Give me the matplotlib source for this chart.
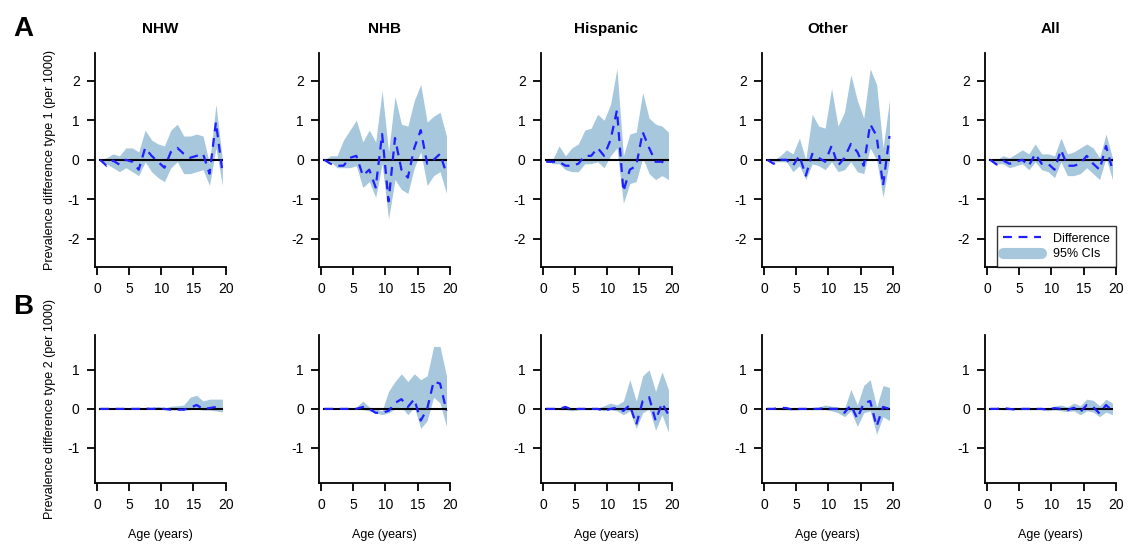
import numpy as np
import matplotlib.pyplot as plt
from matplotlib.lines import Line2D

plt.rcParams["font.family"] = ["Liberation Sans", "DejaVu Sans"]
plt.rcParams["axes.unicode_minus"] = False

ages = np.arange(0.5, 20, 1.0)
groups = ["NHW", "NHB", "Hispanic", "Other", "All"]

# type 1 (row A): difference, lower CI, upper CI
diff_1 = {
    "NHW": [0, -0.15, -0.02, -0.12, 0.0, -0.05, -0.25, 0.3, 0.1, -0.05, -0.2, 0.2, 0.3, 0.15, 0.05, 0.1, 0.15, -0.35, 0.95, -0.3],
    "NHB": [0, -0.1, -0.15, -0.15, 0.05, 0.1, -0.4, -0.25, -0.7, 0.65, -1.05, 0.55, -0.25, -0.45, 0.3, 0.75, -0.1, 0.0, 0.15, -0.35],
    "Hispanic": [-0.05, -0.05, -0.05, -0.15, -0.15, -0.1, 0.1, 0.1, 0.3, 0.1, 0.5, 1.25, -0.8, -0.25, -0.15, 0.7, 0.3, -0.05, -0.05, -0.15],
    "Other": [0, -0.1, 0.0, 0.0, -0.15, 0.1, -0.4, 0.15, 0.05, -0.05, 0.35, -0.15, 0.05, 0.4, 0.2, -0.15, 0.9, 0.6, -0.65, 0.6],
    "All": [0, -0.12, -0.02, -0.1, -0.05, 0.0, -0.15, 0.15, -0.1, -0.1, -0.25, 0.25, -0.15, -0.15, -0.1, 0.1, -0.1, -0.25, 0.35, -0.25],
}
upper_1 = {
    "NHW": [0, 0.05, 0.15, 0.1, 0.3, 0.3, 0.2, 0.75, 0.5, 0.4, 0.35, 0.75, 0.9, 0.6, 0.6, 0.65, 0.6, -0.1, 1.4, 0.0],
    "NHB": [0, 0.1, 0.1, 0.5, 0.75, 1.0, 0.45, 0.75, 0.45, 1.75, 0.2, 1.6, 0.9, 0.85, 1.5, 1.9, 0.95, 1.1, 1.2, 0.6],
    "Hispanic": [0, 0.0, 0.35, 0.1, 0.3, 0.4, 0.75, 0.8, 1.15, 1.0, 1.4, 2.3, 0.1, 0.65, 0.7, 1.7, 1.05, 0.9, 0.85, 0.7],
    "Other": [0, 0.0, 0.1, 0.25, 0.15, 0.55, 0.0, 1.15, 0.85, 0.8, 1.8, 0.85, 1.2, 2.15, 1.5, 1.05, 2.3, 1.9, 0.3, 1.5],
    "All": [0, 0.0, 0.1, 0.05, 0.15, 0.25, 0.15, 0.4, 0.15, 0.15, 0.1, 0.55, 0.15, 0.2, 0.3, 0.4, 0.3, 0.05, 0.65, 0.05],
}
lower_1 = {
    "NHW": [0, -0.1, -0.2, -0.3, -0.2, -0.3, -0.4, -0.05, -0.3, -0.45, -0.55, -0.2, -0.05, -0.35, -0.35, -0.3, -0.25, -0.65, 0.3, -0.65],
    "NHB": [0, -0.05, -0.2, -0.2, -0.2, -0.15, -0.7, -0.55, -0.95, -0.1, -1.5, -0.5, -0.75, -0.85, -0.2, 0.2, -0.65, -0.4, -0.3, -0.85],
    "Hispanic": [0, -0.1, -0.1, -0.25, -0.3, -0.3, -0.1, -0.1, -0.05, -0.2, 0.1, 0.3, -1.1, -0.6, -0.55, 0.05, -0.35, -0.5, -0.4, -0.5],
    "Other": [0, -0.05, -0.05, -0.05, -0.3, -0.15, -0.5, -0.1, -0.15, -0.25, -0.05, -0.3, -0.25, -0.05, -0.3, -0.35, 0.3, 0.0, -0.95, 0.0],
    "All": [0, -0.1, -0.1, -0.2, -0.15, -0.1, -0.25, -0.05, -0.25, -0.3, -0.45, -0.05, -0.4, -0.4, -0.35, -0.2, -0.35, -0.5, 0.05, -0.5],
}

# type 2 (row B)
diff_2 = {
    "NHW": [0, 0, 0, 0, 0, 0, 0, 0.01, 0, 0.01, 0, -0.02, -0.02, -0.02, 0.03, 0.1, 0.0, 0.02, 0.05, 0.03],
    "NHB": [0, 0, 0, 0, 0, 0, 0.05, 0.0, -0.1, -0.1, -0.05, 0.15, 0.25, 0.05, 0.25, -0.3, 0.0, 0.7, 0.65, -0.05],
    "Hispanic": [0, 0, 0, 0.05, -0.02, 0, 0, 0, 0, -0.05, 0.0, 0.03, -0.05, 0.1, -0.4, 0.2, 0.3, -0.3, 0.15, -0.15],
    "Other": [0, 0, 0.03, 0.02, -0.02, 0, 0, 0, 0, 0.02, 0, 0, -0.1, 0.1, -0.25, 0.15, 0.2, -0.45, 0.05, 0],
    "All": [0, 0, 0.02, 0, -0.02, 0, 0, 0, 0, -0.02, 0.02, 0, -0.03, 0.03, -0.08, 0.1, 0.05, -0.12, 0.1, -0.05],
}
upper_2 = {
    "NHW": [0, 0, 0, 0, 0, 0, 0.01, 0.02, 0.02, 0.07, 0.02, 0.07, 0.08, 0.1, 0.3, 0.35, 0.2, 0.25, 0.25, 0.25],
    "NHB": [0, 0, 0, 0, 0, 0.05, 0.2, 0.05, 0.0, -0.05, 0.45, 0.7, 0.9, 0.7, 0.9, 0.75, 0.85, 1.6, 1.6, 0.85],
    "Hispanic": [0, 0, 0.02, 0.07, 0.02, 0.02, 0.02, 0.02, 0.02, 0.08, 0.15, 0.1, 0.2, 0.75, 0.2, 0.85, 1.0, 0.45, 0.95, 0.5],
    "Other": [0, 0, 0.03, 0.03, 0.02, 0.02, 0.02, 0.02, 0.05, 0.1, 0.07, 0.05, 0.0, 0.5, 0.1, 0.6, 0.75, 0.05, 0.6, 0.55],
    "All": [0, 0, 0.02, 0.02, 0.02, 0.02, 0.02, 0.02, 0.02, 0.03, 0.07, 0.1, 0.05, 0.15, 0.08, 0.25, 0.22, 0.08, 0.25, 0.15],
}
lower_2 = {
    "NHW": [0, 0, 0, 0, 0, 0, 0, -0.01, -0.01, -0.01, -0.02, -0.03, -0.03, -0.03, -0.02, 0.0, -0.03, -0.03, -0.05, -0.08],
    "NHB": [0, 0, 0, 0, 0, 0, -0.02, -0.05, -0.1, -0.15, -0.1, 0.0, 0.05, -0.15, 0.05, -0.5, -0.3, 0.3, 0.15, -0.45],
    "Hispanic": [0, 0, -0.02, -0.02, -0.05, -0.02, -0.02, -0.02, -0.02, -0.05, -0.02, -0.05, -0.15, -0.05, -0.5, -0.1, 0.0, -0.55, -0.15, -0.6],
    "Other": [0, 0, -0.02, -0.02, -0.03, -0.02, -0.02, -0.02, -0.02, -0.02, -0.05, -0.1, -0.2, -0.05, -0.45, -0.1, -0.05, -0.65, -0.2, -0.3],
    "All": [0, 0, -0.02, -0.02, -0.02, -0.02, -0.02, -0.02, -0.02, -0.05, -0.02, -0.05, -0.07, -0.05, -0.15, -0.05, -0.08, -0.2, -0.08, -0.15],
}

ci_color = "#a7c7dc"
line_color = "#1f1fff"

fig = plt.figure(figsize=(11.33, 5.51), dpi=100)
lefts = [0.0838, 0.2816, 0.4775, 0.6726, 0.8694]
width = 0.1156
rows = [
    (0.516, 0.388, (-2.7, 2.7), [-2, -1, 0, 1, 2], diff_1, lower_1, upper_1,
     "Prevalence difference type 1 (per 1000)"),
    (0.1234, 0.269, (-1.9, 1.9), [-1, 0, 1], diff_2, lower_2, upper_2,
     "Prevalence difference type 2 (per 1000)"),
]

for r, (bottom, height, ylim, yticks, dd, lo, hi, ylab) in enumerate(rows):
    for i, g in enumerate(groups):
        ax = fig.add_axes([lefts[i], bottom, width, height])
        ax.fill_between(ages, lo[g], hi[g], color=ci_color, lw=0)
        ax.plot([ages[0], ages[-1]], [0, 0], color="black", lw=1.5)
        ax.plot(ages, dd[g], color=line_color, lw=1.6, dashes=(4, 3))
        ax.set_xlim(-0.3, 20.05)
        ax.set_ylim(*ylim)
        ax.set_xticks([0, 5, 10, 15, 20])
        ax.set_yticks(yticks)
        ax.spines[["top", "right"]].set_visible(False)
        ax.spines[["left", "bottom"]].set_linewidth(1.3)
        ax.tick_params(direction="out", length=6, width=1.3, labelsize=10, pad=5)
        if r == 0:
            ax.set_title(g, fontsize=11, fontweight="bold", pad=14)
        else:
            ax.set_xlabel("Age (years)", fontsize=9, labelpad=12)
        if i == 0:
            ax.set_ylabel(ylab, fontsize=9, labelpad=8)
        if r == 0 and i == 4:
            handles = [
                Line2D([], [], color=line_color, lw=1.6, dashes=(4, 3)),
                Line2D([], [], color=ci_color, lw=8, solid_capstyle="round"),
            ]
            leg = ax.legend(handles, ["Difference", "95% CIs"], loc="lower right",
                            fontsize=9, frameon=True, fancybox=False,
                            borderaxespad=0.0, handlelength=3.0, labelspacing=0.3,
                            borderpad=0.5, handletextpad=1.0)
            leg.get_frame().set_edgecolor("black")
            leg.get_frame().set_linewidth(1.0)

fig.text(0.012, 0.935, "A", fontsize=20, fontweight="bold")
fig.text(0.012, 0.43, "B", fontsize=20, fontweight="bold")

fig.savefig("out.png", dpi=100)
